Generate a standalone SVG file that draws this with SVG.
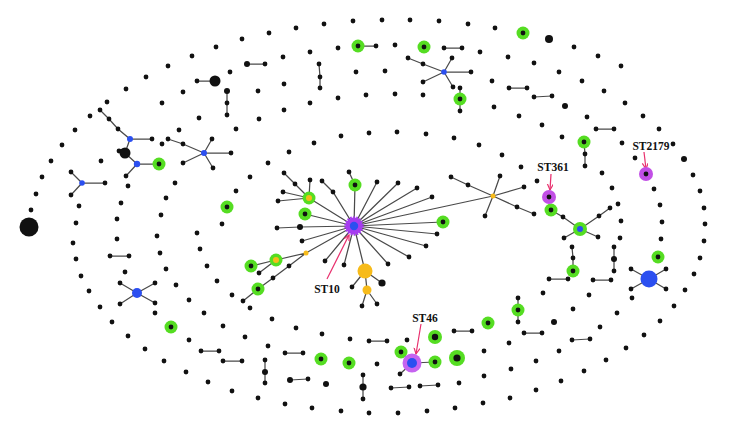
<svg xmlns="http://www.w3.org/2000/svg" xmlns:xlink="http://www.w3.org/1999/xlink" width="729" height="435" viewBox="0 0 729 435">
<style>
.e{stroke:#4a4a4a;stroke-width:1.25;fill:none}
.k{fill:#111}
.g{fill:#55dd22}
.b{fill:#2b4ff0}
.y{fill:#f7bb1a}
.p{fill:#c24fe6}
.lab{font-family:"Liberation Serif",serif;font-weight:bold;font-size:11.5px;fill:#111}
.ar{stroke:#e8306e;stroke-width:1.2;fill:none}
</style>
<defs>
<circle id="d" r="2.4" class="k"/>
<circle id="m" r="3" class="k"/>
<g id="gn"><circle r="6.5" class="g"/><circle r="2.4" class="k"/></g>
<marker id="ah" markerWidth="8" markerHeight="8" refX="6" refY="3" orient="auto" markerUnits="userSpaceOnUse"><path d="M0,0 L6,3 L0,6" stroke="#e8306e" stroke-width="1.2" fill="none"/></marker>
</defs>
<rect width="729" height="435" fill="#fff"/>
<g id="connectors">
<path class="e" d="M197,81L215,81 M227,91L227,115 M100,110L109,119L118,129L130,139L152,139 M130,139L125,153 M137,164L125,153 M137,164L159,164 M137,164L126,176 M168,139L183,144L204,153 M204,153L212,139 M204,153L231,153 M204,153L183,163 M204,153L213,168"/>
<path class="e" d="M358,46L376,46 M444,48L462,48 M247,64L265,64 M319,64L320,77L320,88 M408,58L423,64L444,72 M444,72L452,58 M444,72L471,72 M444,72L423,82 M444,72L453,87 M460,88L460,111"/>
<path class="e" d="M509,88L527,88 M534,97L552,96 M596,129L614,129 M82,183L71,172 M82,183L71,195 M82,183L105,183 M110,256L129,256 M137,293L120,283 M137,293L155,283 M137,293L120,304 M137,293L155,303"/>
<path class="e" d="M354,226L333,192L322,181 M310,180L309,198 M284,173L295,184L309,198 M283,192L309,198 M278,201L309,198 M354,226L309,198 M354,226L305,214 M354,226L300,227L277,228 M354,226L302,241 M354,226L306,253L276,260L251,266 M276,260L259,273 M306,253L289,266L273,278L258,289L243,301 M354,226L325,261 M354,226L344,265 M354,226L365,271 M365,271L382,283 M365,271L352,287 M365,271L367,290 M367,290L362,306 M367,290L377,304 M354,226L388,264 M354,226L409,257 M354,226L426,246 M354,226L437,234 M354,226L443,222 M354,226L432,197 M354,226L417,188 M354,226L398,183 M354,226L377,182 M354,226L355,185L349,172 M354,226L493,196 M451,177L468,185L493,196 M493,196L500,176 M493,196L524,187 M493,196L517,207L534,214 M493,196L485,216"/>
<path class="e" d="M551,210L563,217L580,229 M580,229L564,238 M580,229L598,237 M580,229L599,216L610,208 M584,142L585,154L585,166 M572,247L573,258L573,271 M549,279L568,279 M614,247L614,271 M593,280L611,280 M649,279L631,269 M649,279L666,269 M649,279L631,289 M649,279L666,289"/>
<path class="e" d="M201,351L219,351 M223,361L242,361 M369,341L387,341 M285,353L303,353 M265,360L265,383 M290,380L308,379 M363,375L363,399 M412,363L401,352 M412,363L400,374 M412,363L435,362 M391,388L409,387 M420,386L438,385 M454,331L472,331 M518,298L518,322 M524,333L542,333 M572,340L590,339"/>
<path class="ar" marker-end="url(#ah)" d="M327,279L349,235"/>
<path class="ar" marker-end="url(#ah)" d="M551,174L550,190"/>
<path class="ar" marker-end="url(#ah)" d="M644,152L646,169"/>
<path class="ar" marker-end="url(#ah)" d="M421,324L416,354"/>
</g>
<g id="dots">
<use href="#d" x="62" y="145"/><use href="#d" x="75" y="130"/><use href="#d" x="90" y="116"/><use href="#d" x="107" y="102"/><use href="#d" x="126" y="89"/><use href="#d" x="146" y="77"/><use href="#d" x="168" y="66"/><use href="#d" x="192" y="56"/><use href="#d" x="216" y="47"/><use href="#d" x="242" y="39"/><use href="#d" x="269" y="33"/><use href="#d" x="296" y="28"/><use href="#d" x="324" y="24"/><use href="#d" x="353" y="21"/><use href="#d" x="382" y="20"/><use href="#d" x="410" y="20"/><use href="#d" x="439" y="21"/><use href="#d" x="468" y="24"/><use href="#d" x="495" y="28"/><use href="#d" x="574" y="47"/><use href="#d" x="598" y="56"/><use href="#d" x="621" y="66"/>
<use href="#d" x="51" y="161"/><use href="#d" x="42" y="177"/><use href="#d" x="36" y="194"/><use href="#d" x="31" y="210"/>
<use href="#d" x="197" y="81"/><use href="#d" x="230" y="72"/><use href="#d" x="227" y="103"/><use href="#d" x="227" y="115"/><use href="#d" x="183" y="92"/><use href="#d" x="162" y="103"/><use href="#d" x="199" y="118"/><use href="#d" x="179" y="130"/><use href="#d" x="236" y="129"/><use href="#d" x="100" y="110"/><use href="#d" x="109" y="119"/><use href="#d" x="118" y="129"/><use href="#d" x="152" y="139"/><use href="#d" x="119" y="151"/><use href="#d" x="126" y="176"/><use href="#d" x="168" y="139"/><use href="#d" x="183" y="144"/><use href="#d" x="162" y="144"/><use href="#d" x="212" y="139"/><use href="#d" x="231" y="153"/><use href="#d" x="183" y="163"/><use href="#d" x="213" y="168"/>
<use href="#d" x="376" y="46"/><use href="#d" x="395" y="45"/><use href="#d" x="444" y="48"/><use href="#d" x="462" y="48"/><use href="#d" x="480" y="52"/><use href="#d" x="265" y="64"/><use href="#d" x="283" y="57"/><use href="#d" x="310" y="52"/><use href="#d" x="338" y="48"/><use href="#d" x="319" y="64"/><use href="#d" x="320" y="77"/><use href="#d" x="320" y="88"/><use href="#d" x="284" y="84"/><use href="#d" x="258" y="91"/><use href="#d" x="356" y="72"/><use href="#d" x="385" y="71"/><use href="#d" x="408" y="58"/><use href="#d" x="423" y="64"/><use href="#d" x="452" y="58"/><use href="#d" x="471" y="72"/><use href="#d" x="423" y="82"/><use href="#d" x="453" y="87"/><use href="#d" x="460" y="88"/><use href="#d" x="460" y="111"/><use href="#d" x="366" y="95"/><use href="#d" x="395" y="94"/><use href="#d" x="423" y="95"/><use href="#d" x="338" y="98"/><use href="#d" x="310" y="103"/><use href="#d" x="284" y="110"/><use href="#d" x="259" y="119"/><use href="#d" x="314" y="143"/><use href="#d" x="341" y="136"/><use href="#d" x="369" y="133"/><use href="#d" x="397" y="132"/><use href="#d" x="426" y="134"/><use href="#d" x="454" y="138"/><use href="#d" x="479" y="145"/>
<use href="#d" x="519" y="116"/><use href="#d" x="542" y="125"/><use href="#d" x="562" y="137"/><use href="#d" x="502" y="155"/><use href="#d" x="521" y="167"/><use href="#d" x="537" y="181"/>
<use href="#d" x="508" y="57"/><use href="#d" x="534" y="63"/><use href="#d" x="559" y="72"/><use href="#d" x="582" y="81"/><use href="#d" x="604" y="91"/><use href="#d" x="625" y="103"/><use href="#d" x="643" y="116"/><use href="#d" x="659" y="129"/><use href="#d" x="492" y="81"/><use href="#d" x="509" y="88"/><use href="#d" x="527" y="88"/><use href="#d" x="534" y="97"/><use href="#d" x="552" y="96"/><use href="#d" x="494" y="107"/><use href="#d" x="587" y="117"/><use href="#d" x="596" y="129"/><use href="#d" x="614" y="129"/><use href="#d" x="622" y="143"/><use href="#d" x="673" y="144"/>
<use href="#d" x="71" y="172"/><use href="#d" x="71" y="195"/><use href="#d" x="105" y="183"/><use href="#d" x="79" y="206"/><use href="#d" x="76" y="223"/><use href="#d" x="73" y="243"/><use href="#d" x="76" y="259"/><use href="#d" x="81" y="276"/><use href="#d" x="89" y="291"/><use href="#d" x="101" y="161"/><use href="#d" x="128" y="186"/><use href="#d" x="121" y="203"/><use href="#d" x="117" y="219"/><use href="#d" x="117" y="239"/><use href="#d" x="110" y="256"/><use href="#d" x="129" y="256"/><use href="#d" x="125" y="272"/><use href="#d" x="175" y="183"/><use href="#d" x="166" y="198"/><use href="#d" x="161" y="215"/><use href="#d" x="157" y="236"/><use href="#d" x="160" y="253"/><use href="#d" x="166" y="269"/><use href="#d" x="176" y="285"/><use href="#d" x="236" y="191"/><use href="#d" x="222" y="224"/><use href="#d" x="197" y="233"/><use href="#d" x="200" y="249"/><use href="#d" x="207" y="266"/><use href="#d" x="217" y="281"/><use href="#d" x="120" y="283"/><use href="#d" x="155" y="283"/><use href="#d" x="120" y="304"/><use href="#d" x="155" y="303"/>
<use href="#d" x="289" y="152"/><use href="#d" x="268" y="163"/><use href="#d" x="250" y="177"/><use href="#d" x="322" y="181"/><use href="#d" x="333" y="192"/><use href="#d" x="310" y="180"/><use href="#d" x="284" y="173"/><use href="#d" x="295" y="184"/><use href="#d" x="283" y="192"/><use href="#d" x="278" y="201"/><use href="#d" x="277" y="228"/><use href="#d" x="302" y="241"/><use href="#d" x="259" y="273"/><use href="#d" x="289" y="266"/><use href="#d" x="273" y="278"/><use href="#d" x="243" y="301"/><use href="#d" x="325" y="261"/><use href="#d" x="344" y="265"/><use href="#d" x="352" y="287"/><use href="#d" x="362" y="306"/><use href="#d" x="377" y="304"/><use href="#d" x="388" y="264"/><use href="#d" x="409" y="257"/><use href="#d" x="426" y="246"/><use href="#d" x="437" y="234"/><use href="#d" x="432" y="197"/><use href="#d" x="417" y="188"/><use href="#d" x="398" y="183"/><use href="#d" x="377" y="182"/><use href="#d" x="349" y="172"/><use href="#d" x="451" y="177"/><use href="#d" x="468" y="185"/><use href="#d" x="500" y="176"/><use href="#d" x="524" y="187"/><use href="#d" x="517" y="207"/><use href="#d" x="534" y="214"/><use href="#d" x="485" y="216"/>
<use href="#d" x="602" y="173"/><use href="#d" x="612" y="188"/><use href="#d" x="618" y="204"/><use href="#d" x="621" y="221"/><use href="#d" x="620" y="238"/><use href="#d" x="585" y="154"/><use href="#d" x="585" y="166"/><use href="#d" x="563" y="217"/><use href="#d" x="564" y="238"/><use href="#d" x="598" y="237"/><use href="#d" x="599" y="216"/><use href="#d" x="610" y="208"/><use href="#d" x="572" y="247"/><use href="#d" x="573" y="258"/><use href="#d" x="549" y="279"/><use href="#d" x="568" y="279"/><use href="#d" x="614" y="247"/><use href="#d" x="614" y="271"/><use href="#d" x="593" y="280"/><use href="#d" x="611" y="280"/><use href="#d" x="635" y="158"/><use href="#d" x="693" y="175"/><use href="#d" x="700" y="191"/><use href="#d" x="704" y="208"/><use href="#d" x="705" y="224"/><use href="#d" x="704" y="241"/><use href="#d" x="700" y="258"/><use href="#d" x="694" y="274"/><use href="#d" x="685" y="290"/><use href="#d" x="654" y="189"/><use href="#d" x="660" y="205"/><use href="#d" x="662" y="222"/><use href="#d" x="661" y="239"/><use href="#d" x="631" y="269"/><use href="#d" x="666" y="269"/><use href="#d" x="631" y="289"/><use href="#d" x="666" y="289"/>
<use href="#d" x="100" y="307"/><use href="#d" x="112" y="322"/><use href="#d" x="128" y="336"/><use href="#d" x="145" y="349"/><use href="#d" x="164" y="361"/><use href="#d" x="186" y="372"/><use href="#d" x="208" y="382"/><use href="#d" x="232" y="391"/><use href="#d" x="155" y="313"/><use href="#d" x="189" y="340"/><use href="#d" x="201" y="351"/><use href="#d" x="219" y="351"/><use href="#d" x="223" y="361"/><use href="#d" x="242" y="361"/><use href="#d" x="189" y="300"/><use href="#d" x="204" y="313"/><use href="#d" x="223" y="326"/><use href="#d" x="232" y="295"/><use href="#d" x="250" y="308"/>
<use href="#d" x="272" y="319"/><use href="#d" x="296" y="328"/><use href="#d" x="322" y="334"/><use href="#d" x="350" y="339"/><use href="#d" x="369" y="341"/><use href="#d" x="387" y="341"/><use href="#d" x="407" y="340"/><use href="#d" x="245" y="337"/><use href="#d" x="268" y="346"/><use href="#d" x="285" y="353"/><use href="#d" x="303" y="353"/><use href="#d" x="377" y="364"/><use href="#d" x="265" y="360"/><use href="#d" x="265" y="383"/><use href="#d" x="308" y="379"/><use href="#d" x="363" y="375"/><use href="#d" x="363" y="399"/><use href="#d" x="400" y="374"/><use href="#d" x="391" y="388"/><use href="#d" x="409" y="387"/><use href="#d" x="420" y="386"/><use href="#d" x="438" y="385"/><use href="#d" x="459" y="383"/><use href="#d" x="454" y="331"/><use href="#d" x="472" y="331"/><use href="#d" x="484" y="351"/><use href="#d" x="484" y="376"/><use href="#d" x="483" y="403"/><use href="#d" x="258" y="398"/><use href="#d" x="285" y="404"/><use href="#d" x="312" y="408"/><use href="#d" x="341" y="411"/><use href="#d" x="369" y="413"/><use href="#d" x="398" y="413"/><use href="#d" x="427" y="411"/><use href="#d" x="455" y="408"/>
<use href="#d" x="518" y="298"/><use href="#d" x="518" y="322"/><use href="#d" x="543" y="293"/><use href="#d" x="589" y="295"/><use href="#d" x="632" y="298"/><use href="#d" x="573" y="309"/><use href="#d" x="617" y="313"/><use href="#d" x="600" y="327"/><use href="#d" x="674" y="306"/><use href="#d" x="660" y="321"/><use href="#d" x="644" y="335"/><use href="#d" x="626" y="348"/><use href="#d" x="606" y="360"/><use href="#d" x="584" y="371"/><use href="#d" x="561" y="381"/><use href="#d" x="536" y="390"/><use href="#d" x="510" y="398"/><use href="#d" x="524" y="333"/><use href="#d" x="542" y="333"/><use href="#d" x="572" y="340"/><use href="#d" x="590" y="339"/><use href="#d" x="509" y="343"/><use href="#d" x="559" y="351"/><use href="#d" x="536" y="361"/><use href="#d" x="511" y="369"/>
</g>
<g id="medium-nodes">
<use href="#m" x="227" y="91"/><use href="#m" x="247" y="64"/><use href="#m" x="565" y="106"/><use href="#m" x="300" y="227"/><use href="#m" x="684" y="159"/><use href="#m" x="265" y="372"/><use href="#m" x="290" y="380"/><use href="#m" x="326" y="384"/><use href="#m" x="614" y="259"/><use href="#m" x="554" y="322"/>
<circle cx="382" cy="283" r="3.6" class="k"/><circle cx="363" cy="387" r="3.6" class="k"/>
</g>
<g id="big-black-nodes">
<circle id="bk1" cx="215" cy="81" r="5.5" class="k"/>
<circle id="bk2" cx="125" cy="153" r="5.5" class="k"/>
<circle id="bk3" cx="29" cy="227" r="9.5" class="k"/>
<circle id="bk4" cx="549" cy="39" r="4" class="k"/>
</g>
<g id="green-nodes">
<use href="#gn" x="358" y="46"/><use href="#gn" x="424" y="47"/><use href="#gn" x="460" y="99"/><use href="#gn" x="523" y="33"/><use href="#gn" x="584" y="142"/><use href="#gn" x="227" y="207"/><use href="#gn" x="159" y="164"/><use href="#gn" x="305" y="214"/><use href="#gn" x="355" y="185"/><use href="#gn" x="443" y="222"/><use href="#gn" x="251" y="266"/><use href="#gn" x="258" y="289"/><use href="#gn" x="171" y="327"/><use href="#gn" x="321" y="359"/><use href="#gn" x="349" y="363"/><use href="#gn" x="401" y="352"/><use href="#gn" x="435" y="362"/><use href="#gn" x="488" y="323"/><use href="#gn" x="518" y="310"/><use href="#gn" x="551" y="210"/><use href="#gn" x="573" y="271"/><use href="#gn" x="658" y="257"/>
<g id="g435"><circle cx="435" cy="337" r="7" class="g"/><circle cx="435" cy="337" r="3.2" class="k"/></g>
<g id="g457"><circle cx="457" cy="358" r="8" class="g"/><circle cx="457" cy="358" r="3.6" class="k"/></g>
</g>
<g id="gy1"><circle cx="309" cy="198" r="6.5" class="g"/><circle cx="309" cy="198" r="3" class="y"/></g>
<g id="gy2"><circle cx="276" cy="260" r="6.5" class="g"/><circle cx="276" cy="260" r="3" class="y"/></g>
<g id="bg"><circle cx="580" cy="229" r="7" class="g"/><circle cx="580" cy="229" r="3" class="b"/></g>
<g id="ystar"><circle cx="493" cy="196" r="2.5" class="y"/></g>
<g id="y1"><circle cx="306" cy="253" r="2.5" class="y"/></g>
<g id="y2"><circle cx="365" cy="271" r="7.5" class="y"/></g>
<g id="y3"><circle cx="367" cy="290" r="4.5" class="y"/></g>
<g id="blueA"><circle cx="130" cy="139" r="3" class="b"/></g>
<g id="blueB"><circle cx="137" cy="164" r="3.2" class="b"/></g>
<g id="blueC"><circle cx="204" cy="153" r="3" class="b"/></g>
<g id="blueD"><circle cx="444" cy="72" r="2.8" class="b"/></g>
<g id="blueE"><circle cx="82" cy="183" r="2.8" class="b"/></g>
<g id="blueF"><circle cx="137" cy="293" r="5" class="b"/></g>
<g id="blueG"><circle cx="649" cy="279" r="8.5" class="b"/></g>
<g id="st10"><circle cx="354" cy="226" r="8.5" fill="#a63cf0" stroke="#a63cf0" stroke-width="2.5" stroke-dasharray="1.6 1.4"/><circle cx="354" cy="226" r="4.2" class="b"/></g>
<g id="st361"><circle cx="549" cy="197" r="7" class="p"/><circle cx="549" cy="197" r="2.4" class="k"/></g>
<g id="st2179"><circle cx="646" cy="174" r="7" class="p"/><circle cx="646" cy="174" r="2.4" class="k"/></g>
<g id="st46"><circle cx="412" cy="363" r="9.5" fill="#c663f0"/><circle cx="412" cy="363" r="5" class="b"/></g>
<g id="labels">
<text class="lab" x="327" y="293" text-anchor="middle">ST10</text>
<text class="lab" x="553" y="171" text-anchor="middle">ST361</text>
<text class="lab" x="651" y="150" text-anchor="middle">ST2179</text>
<text class="lab" x="425" y="322" text-anchor="middle">ST46</text>
</g>
</svg>
